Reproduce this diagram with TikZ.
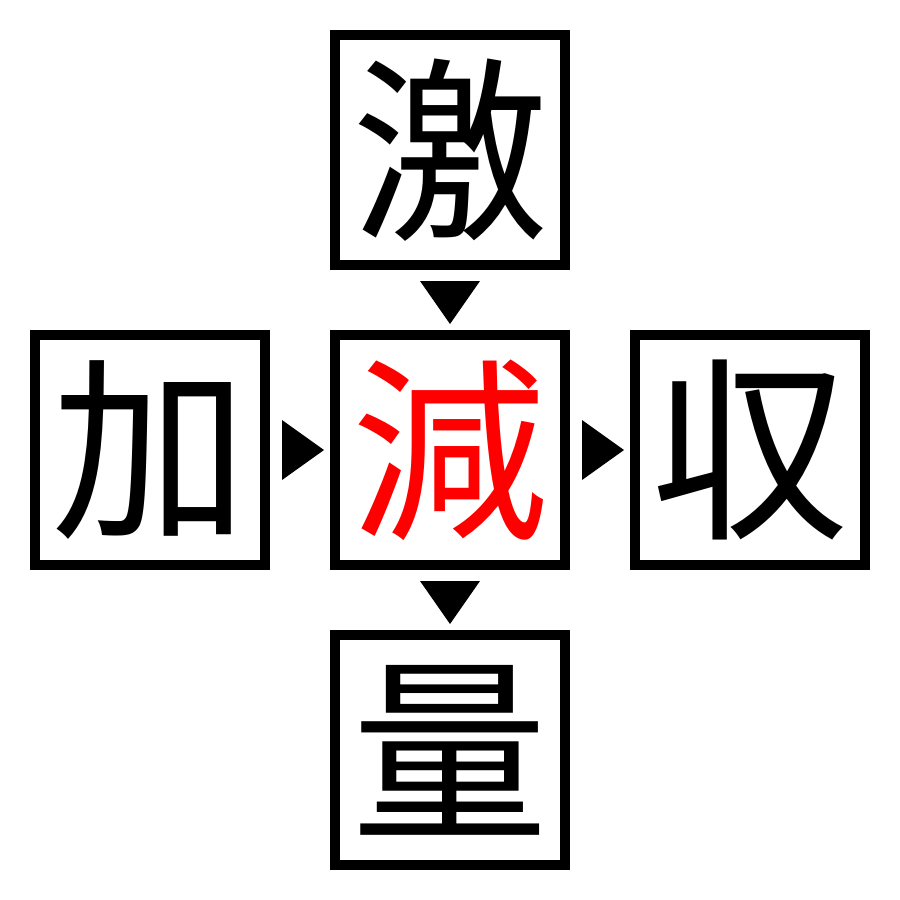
\documentclass[tikz,border=0pt]{standalone}
\usepackage{fontspec}
\newfontfamily\cjk{Noto Sans CJK JP}
\begin{document}
\begin{tikzpicture}[x=0.01cm,y=-0.01cm,
  box/.style={draw=black,line width=2.845pt,minimum size=2.3cm,inner sep=0pt,anchor=center},
  glyph/.style={font=\cjk\fontsize{56}{56}\selectfont,inner sep=0pt,anchor=center},
  tri/.style={fill=black,draw=none}]
\useasboundingbox (0,0) rectangle (900,900);
\node[box] (top) at (450,150) {};
\node[box] (mid) at (450,450) {};
\node[box] (lft) at (150,450) {};
\node[box] (rgt) at (750,450) {};
\node[box] (bot) at (450,750) {};
\node[glyph] (ttop) at (top.center) {激};
\node[glyph,text=red] (tmid) at (mid.center) {減};
\node[glyph] (tlft) at (lft.center) {加};
\node[glyph] (trgt) at (rgt.center) {収};
\node[glyph] (tbot) at (bot.center) {量};
\fill[tri] (420,281) -- (480,281) -- (450,324) -- cycle;
\fill[tri] (420,581) -- (480,581) -- (450,624) -- cycle;
\fill[tri] (282,420) -- (282,480) -- (324,450) -- cycle;
\fill[tri] (582,420) -- (582,480) -- (624,450) -- cycle;
\end{tikzpicture}
\end{document}
